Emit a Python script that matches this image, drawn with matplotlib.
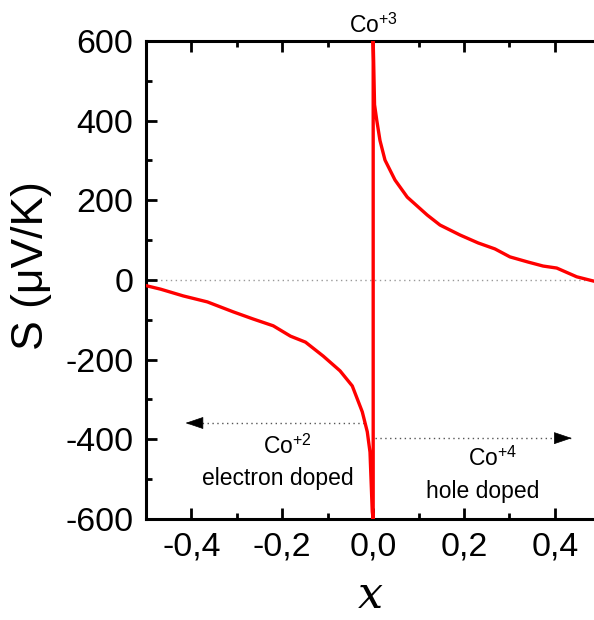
import numpy as np
import matplotlib.pyplot as plt
from matplotlib.ticker import MultipleLocator, FuncFormatter

plt.rcParams["font.family"] = ["Liberation Sans", "DejaVu Sans"]
plt.rcParams["mathtext.fontset"] = "custom"
plt.rcParams["mathtext.rm"] = "Liberation Sans"
plt.rcParams["mathtext.it"] = "DejaVu Serif:italic"

# ---- data
x_elec = [-0.497, -0.468, -0.418, -0.365, -0.308, -0.264, -0.22, -0.182, -0.149, -0.11,
          -0.073, -0.046, -0.024, -0.013, -0.007, -0.002, 0.0]
s_elec = [-15, -23, -40, -55, -80, -98, -115, -141, -156, -191,
          -228, -266, -331, -381, -432, -582, -600]
x_hole = [0.0, 0.001, 0.003, 0.008, 0.015, 0.026, 0.048, 0.075, 0.119, 0.147, 0.191,
          0.231, 0.268, 0.301, 0.341, 0.374, 0.404, 0.448, 0.486]
s_hole = [600, 550, 440, 400, 350, 301, 251, 208, 163, 138, 113,
          93, 78, 58, 45, 35, 30, 8, -3]

# doping arrows: (start x, end x, level)
arrow_elec = (-0.02, -0.413, -359)
arrow_hole = (0.005, 0.437, -397)

x_all = x_elec + x_hole
s_all = s_elec + s_hole

fig = plt.figure(figsize=(5.94, 6.2), dpi=100)
ax = fig.add_axes([0.2458, 0.1629, 0.7542, 0.7710])

ax.axhline(0, color="#999999", lw=1, ls=(0, (1, 2.5)), zorder=1)
ax.plot(x_all, s_all, color="#ff0000", lw=2.4, zorder=3)

# ---- dotted shafts + solid heads
for x0, x1, lvl in [arrow_elec, arrow_hole]:
    ax.plot([x0, x1], [lvl, lvl], color="#555555", lw=1, ls=(0, (1, 2.5)), zorder=2)
    d = 0.025 if x1 > x0 else -0.025
    ax.annotate("", xy=(x1, lvl), xytext=(x1 - d, lvl),
                arrowprops=dict(arrowstyle="-|>,head_length=0.65,head_width=0.22",
                                color="black", lw=0.5, shrinkA=0, shrinkB=0,
                                mutation_scale=18))

ax.text(-0.189, -419, r"Co$^{+2}$", fontsize=16.5, ha="center", va="center")
ax.text(-0.21, -499, "electron doped", fontsize=16.5, ha="center", va="center")
ax.text(0.264, -449, r"Co$^{+4}$", fontsize=16.5, ha="center", va="center")
ax.text(0.242, -530, "hole doped", fontsize=16.5, ha="center", va="center")
ax.text(0.0, 620, r"Co$^{+3}$", fontsize=16.5, ha="center", va="baseline")

ax.set_xlim(-0.5, 0.486)
ax.set_ylim(-600, 600)

ax.xaxis.set_major_locator(MultipleLocator(0.2))
ax.xaxis.set_minor_locator(MultipleLocator(0.1))
ax.yaxis.set_major_locator(MultipleLocator(200))
ax.yaxis.set_minor_locator(MultipleLocator(100))
ax.xaxis.set_major_formatter(FuncFormatter(lambda v, p: f"{v:.1f}".replace(".", ",")))
ax.yaxis.set_major_formatter(FuncFormatter(lambda v, p: f"{v:.0f}"))

ax.tick_params(which="both", direction="in", top=True, right=False, width=2)
ax.tick_params(which="major", length=8, labelsize=24.5)
ax.tick_params(axis="x", which="major", pad=9)
ax.tick_params(axis="y", which="major", pad=9)
ax.tick_params(which="minor", length=4)

for side in ["left", "bottom", "top"]:
    ax.spines[side].set_linewidth(2.2)
ax.spines["right"].set_visible(False)

ax.set_ylabel("S (μV/K)", fontsize=32)
ax.yaxis.set_label_coords(-0.21, 0.53)
ax.set_xlabel("$x$", fontsize=32, labelpad=10)

plt.savefig("out.png", dpi=100)
